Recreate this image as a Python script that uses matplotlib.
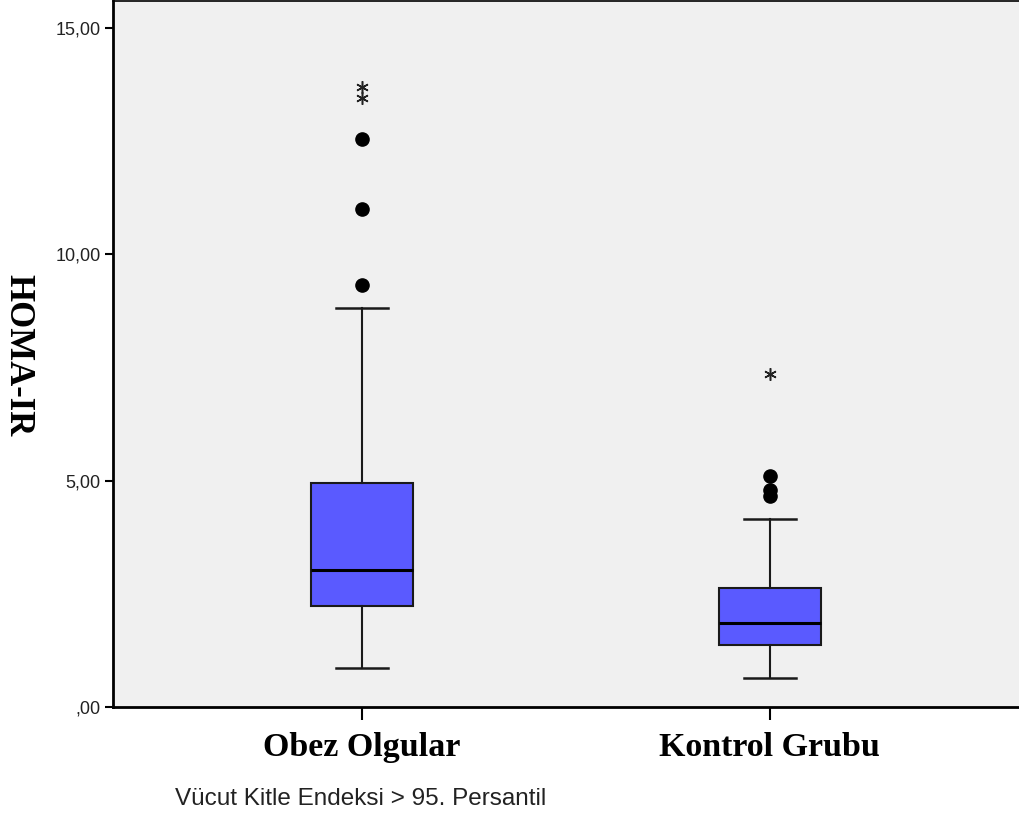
import matplotlib.pyplot as plt
from matplotlib.ticker import FuncFormatter

# box stats
groups = ['Obez Olgular', 'Kontrol Grubu']
q1 = [2.23, 1.37]
med = [3.03, 1.86]
q3 = [4.95, 2.63]
whislo = [0.86, 0.64]
whishi = [8.81, 4.15]
# outliers (circles) and extremes (asterisks)
out_circ = [[9.32, 11.0, 12.55], [4.66, 4.79, 5.10]]
out_star = [[13.45, 13.70], [7.36]]

xlabel_txt = 'Vücut Kitle Endeksi > 95. Persantil'
ylabel_txt = 'HOMA-IR'

fig = plt.figure(figsize=(10.19, 8.18), dpi=100)
ax = fig.add_axes([113 / 1019, 111 / 818, 1 - 113 / 1019, 706 / 818])
ax.set_facecolor('#f0f0f0')

pos = list(range(len(groups)))
stats = []
for i in pos:
    stats.append(dict(med=med[i], q1=q1[i], q3=q3[i],
                      whislo=whislo[i], whishi=whishi[i], fliers=[]))

ax.bxp(stats, positions=pos, widths=0.25, capwidths=0.128, patch_artist=True,
       showfliers=False,
       boxprops=dict(facecolor='#5a5aff', edgecolor='#1a1a1a', linewidth=1.5),
       medianprops=dict(color='black', linewidth=2.2),
       whiskerprops=dict(color='#1a1a1a', linewidth=1.5),
       capprops=dict(color='#1a1a1a', linewidth=1.8))

for i in pos:
    ax.plot([pos[i]] * len(out_circ[i]), out_circ[i], 'o', color='black',
            markersize=9.5, linestyle='none')
    ax.plot([pos[i]] * len(out_star[i]), out_star[i], marker=(6, 2, 0),
            color='#222222', markersize=9, markeredgewidth=1.1, linestyle='none')

ax.set_xlim(-0.611, 1.611)
ax.set_ylim(0, 15.6)
ax.set_yticks([0, 5, 10, 15])
ax.yaxis.set_major_formatter(FuncFormatter(
    lambda v, p: (',00' if v == 0 else '{:.2f}'.format(v).replace('.', ','))))
ax.set_xticks(pos)
ax.set_xticklabels(groups, fontfamily='Liberation Serif', fontweight='bold',
                   fontsize=24.5)
ax.tick_params(axis='y', labelsize=13, length=6, width=1.5, pad=3,
               labelcolor='#222222')
ax.tick_params(axis='x', length=9, width=1.5, pad=9)
for lab in ax.get_yticklabels():
    lab.set_fontfamily('Liberation Sans')

for s in ['left', 'bottom']:
    ax.spines[s].set_linewidth(2)
ax.spines['top'].set_linewidth(1.2)
ax.spines['right'].set_visible(False)

fig.text(18 / 1019, 1 - 355 / 818, ylabel_txt, rotation=270, ha='center',
         va='center', fontfamily='Liberation Serif', fontweight='bold',
         fontsize=25)
fig.text(361 / 1019, 1 - 799 / 818, xlabel_txt, ha='center', va='center',
         fontfamily='Liberation Sans', fontsize=17.5, color='#222222')

fig.savefig('out.png', dpi=100)
